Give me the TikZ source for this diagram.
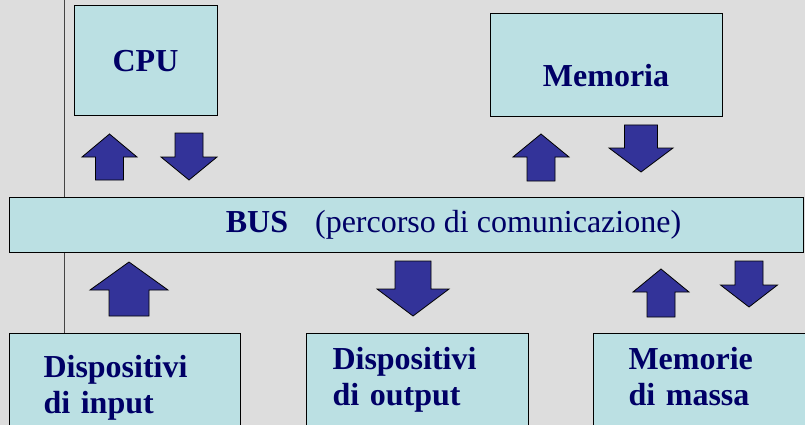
\documentclass[tikz,border=0pt]{standalone}
\usepackage{fontspec}
\setmainfont{Liberation Serif}
\usepackage{xcolor}
\usetikzlibrary{positioning}
\definecolor{bggray}{HTML}{DDDDDD}
\definecolor{boxfill}{HTML}{BBE0E3}
\definecolor{arrfill}{HTML}{333399}
\definecolor{txtblue}{HTML}{000066}
\definecolor{linegray}{HTML}{444444}

\begin{document}
\begin{tikzpicture}[x=1pt,y=-1pt,
	unit/.style={draw=black,line width=1pt,fill=boxfill,text=txtblue,
		font=\fontsize{32}{36}\selectfont\bfseries},
	lowbox/.style={unit,anchor=north west,align=left,inner ysep=0pt},
	blk/.style={fill=arrfill,draw=black,line width=0.8pt},
	pics/blkarrow/.style args={#1/#2/#3/#4}{code={
		\draw[blk] (0,0) -- (#1,#3) -- (#2,#3) -- (#2,#4) -- (-#2,#4) -- (-#2,#3) -- (-#1,#3) -- cycle;}}]
			\useasboundingbox (0,0) rectangle (805,425);
			\clip (0,0) rectangle (805,425);
			\fill[bggray] (0,0) rectangle (805,425);

			\node[unit,minimum width=143,minimum height=110] (cpu) at (145.5,61) {CPU};
			\node[unit,minimum width=232,minimum height=103,text height=43pt,text depth=0pt] (mem) at (606,65.5) {Memoria};
			\node[lowbox,inner xsep=34,text width=163,text height=44pt,text depth=80pt] (in) at (9,333) {Dispositivi\\di input};
			\node[lowbox,inner xsep=26,text width=170,text height=36pt,text depth=90pt] (out) at (306,333) {Dispositivi\\di output};
			\node[lowbox,inner xsep=35,text width=170,text height=36pt,text depth=90pt] (mass) at (593,333) {Memorie\\di massa};

			\coordinate (ltop) at (64,0);
			\draw[linegray,line width=0.8pt] (ltop) -- (ltop |- in.north);

			\node[unit,minimum width=794.5,minimum height=55] (bus) at (406.25,224.5)
				{\hspace*{94.5pt}BUS\hspace{27pt}{\mdseries(percorso di comunicazione)}};

			% frecce da e verso il bus
			\pic (cpuup) at (109.5,134) {blkarrow=27.5/14/23/46};
			\pic[rotate=180] (cpudown) at (189,180) {blkarrow=28/14/23/47};
			\pic (memup) at (541,134) {blkarrow=28/14/23/47};
			\pic[rotate=180] (memdown) at (641,172) {blkarrow=32/16.5/24/47};
			\pic (inup) at (129,262) {blkarrow=39/20/28/54};
			\pic[rotate=180] (outdown) at (413,316) {blkarrow=36/18/27/55};
			\pic (massup) at (661,269) {blkarrow=28/14/23/48};
			\pic[rotate=180] (massdown) at (749,307) {blkarrow=28.5/14/22/46};
\end{tikzpicture}
\end{document}
